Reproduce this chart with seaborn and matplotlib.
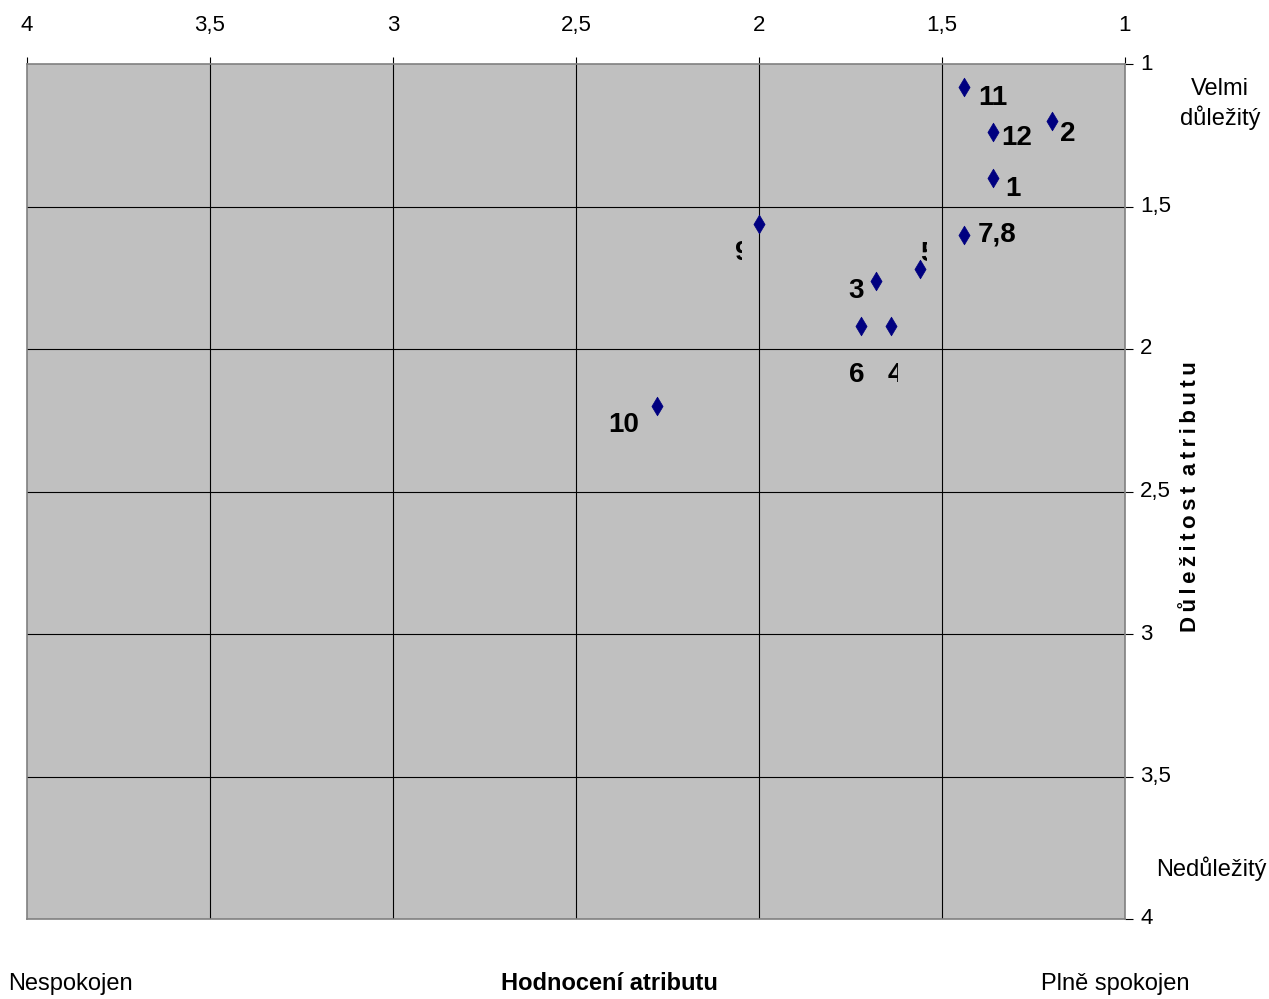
import matplotlib
matplotlib.use('Agg')
import matplotlib.pyplot as plt
import seaborn as sns
import pandas as pd
from matplotlib.patches import Rectangle

# ---- data ----
labels = ['1', '2', '3', '4', '5', '6', '7,8', '9', '10', '11', '12']
hodnoceni = [1.36, 1.20, 1.68, 1.64, 1.56, 1.72, 1.44, 2.00, 2.28, 1.44, 1.36]
dulezitost = [1.40, 1.20, 1.76, 1.92, 1.72, 1.92, 1.60, 1.56, 2.20, 1.08, 1.24]
x_ticks = [4, 3.5, 3, 2.5, 2, 1.5, 1]
x_tick_labels = ['4', '3,5', '3', '2,5', '2', '1,5', '1']
y_ticks = [1, 1.5, 2, 2.5, 3, 3.5, 4]
y_tick_labels = ['1', '1,5', '2', '2,5', '3', '3,5', '4']

# label offsets in pixels (right, down to baseline)
label_offsets = {'11': (29, 18), '12': (23, 13), '2': (16, 20), '1': (20, 18),
                 '7,8': (33, 7), '9': (-16, 36), '5': (8, -8), '3': (-20, 17),
                 '6': (-5, 56), '4': (5, 56), '10': (-33, 26)}
# labels partly hidden on their right side (clip edge in data x)
label_clip = {'9': 2.046, '5': 1.541, '4': 1.620}

df = pd.DataFrame({'label': labels, 'x': hodnoceni, 'y': dulezitost})

plt.rcParams['font.family'] = ['Liberation Sans', 'DejaVu Sans']

W, H = 1269, 999
fig = plt.figure(figsize=(W / 100, H / 100), dpi=100)
fig.patch.set_facecolor('white')
ax = fig.add_axes([27 / W, 1 - 919 / H, (1125 - 27) / W, (919 - 64) / H])
ax.set_facecolor('#C0C0C0')

for v in x_ticks[1:-1]:
    ax.axvline(v, color='black', lw=0.8, zorder=1)
for v in y_ticks[1:-1]:
    ax.axhline(v, color='black', lw=0.8, zorder=1)

sns.scatterplot(data=df, x='x', y='y', ax=ax, marker='d', s=90,
                color='#000080', edgecolor='#000080', linewidth=0.5, zorder=3,
                legend=False)

ax.set_xlim(4, 1)
ax.set_ylim(4, 1)
ax.set_xticks(x_ticks)
ax.set_xticklabels(x_tick_labels)
ax.set_yticks(y_ticks)
ax.set_yticklabels(y_tick_labels)
ax.xaxis.tick_top()
ax.yaxis.tick_right()
ax.tick_params(axis='x', direction='out', length=5, width=0.8, color='black',
               pad=15, labelsize=16)
ax.tick_params(axis='y', direction='out', length=6, width=0.8, color='black',
               pad=5, labelsize=16)
for lab in ax.get_yticklabels():
    lab.set_verticalalignment('center')
ax.set_xlabel('')
ax.set_ylabel('')
for sp in ax.spines.values():
    sp.set_color('#808080')
    sp.set_linewidth(1.2)

for lab, x, y in zip(labels, hodnoceni, dulezitost):
    dx, dy = label_offsets[lab]
    t = ax.annotate(lab, (x, y), xytext=(dx, -dy), textcoords='offset pixels',
                    ha='center', va='baseline', fontsize=20, fontweight='bold',
                    color='black', zorder=4, annotation_clip=False)
    if lab in label_clip:
        cx = label_clip[lab]
        r = Rectangle((cx, 0), 4 - cx, 5, transform=ax.transData)
        t.set_clip_path(r)
        t.set_clip_on(True)

def ftext(px, py, s, **kw):
    fig.text(px / W, 1 - py / H, s, **kw)

ftext(1220, 104, 'Velmi\ndůležitý', ha='center', va='center', fontsize=17,
      linespacing=1.25)
ftext(1211, 869, 'Nedůležitý', ha='center', va='center', fontsize=17)
ftext(8, 984, 'Nespokojen', ha='left', va='center', fontsize=17)
ftext(609, 984, 'Hodnocení atributu', ha='center', va='center', fontsize=17,
      fontweight='bold')
ftext(1115, 984, 'Plně spokojen', ha='center', va='center', fontsize=17)
title_y = '\u2009'.join('Důležitost') + ' \u2009' + '\u2009'.join('atributu')
ftext(1190, 497, title_y, ha='center', va='center', rotation=90, fontsize=16,
      fontweight='bold')

fig.savefig('out.png', dpi=100)
